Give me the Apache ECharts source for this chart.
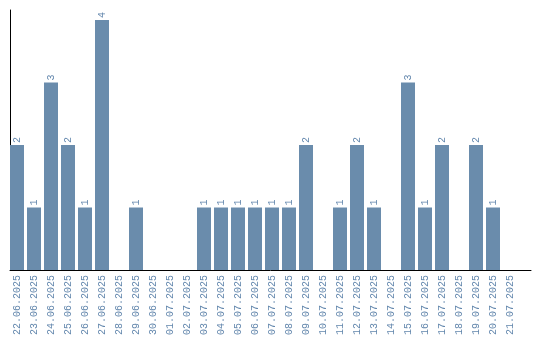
<!DOCTYPE html>
<html>
<head>
<meta charset="utf-8">
<script src="https://cdn.jsdelivr.net/npm/echarts@6/dist/echarts.min.js"></script>
<style>
html,body{margin:0;padding:0;background:#fff;}
#chart{width:540px;height:340px;}
</style>
</head>
<body>
<div id="chart"></div>
<script>
var categories = ["22.06.2025","23.06.2025","24.06.2025","25.06.2025","26.06.2025","27.06.2025","28.06.2025","29.06.2025","30.06.2025","01.07.2025","02.07.2025","03.07.2025","04.07.2025","05.07.2025","06.07.2025","07.07.2025","08.07.2025","09.07.2025","10.07.2025","11.07.2025","12.07.2025","13.07.2025","14.07.2025","15.07.2025","16.07.2025","17.07.2025","18.07.2025","19.07.2025","20.07.2025","21.07.2025"];
var counts = [2,1,3,2,1,4,0,1,0,0,0,1,1,1,1,1,1,2,0,1,2,1,0,3,1,2,0,2,1,0];

var barColor = '#6a8cac';
var textColor = '#6387ad';
var chart = echarts.init(document.getElementById('chart'), null, {renderer:'canvas'});
chart.setOption({
  animation: false,
  grid: [
    {left: 8.5, width: 510, top: 10, height: 260},
    {left: 10, width: 521, top: 10, height: 260}
  ],
  xAxis: [
    {type: 'category', gridIndex: 0, data: categories, boundaryGap: true,
     axisLine: {show: false}, axisTick: {show: false}, splitLine: {show: false},
     axisLabel: {interval: 0, rotate: 90, margin: 5, color: textColor,
       fontFamily: 'Liberation Mono', fontSize: 10}},
    {type: 'value', gridIndex: 1, min: 0, max: 1,
     axisLine: {show: true, lineStyle: {color: '#000', width: 1}},
     axisTick: {show: false}, axisLabel: {show: false}, splitLine: {show: false}}
  ],
  yAxis: [
    {type: 'value', gridIndex: 0, min: 0, max: 4.16, show: false, splitLine: {show: false}},
    {type: 'value', gridIndex: 1, min: 0, max: 1,
     axisLine: {show: true, lineStyle: {color: '#000', width: 1}},
     axisTick: {show: false}, axisLabel: {show: false}, splitLine: {show: false}}
  ],
  series: [{
    type: 'bar', xAxisIndex: 0, yAxisIndex: 0, data: counts, barWidth: 14, z: 5,
    itemStyle: {color: barColor},
    label: {show: true, position: 'top', rotate: 90, align: 'left', verticalAlign: 'middle',
      distance: 2, color: textColor, fontFamily: 'Liberation Mono', fontSize: 10,
      formatter: function(p){ return p.value ? String(p.value) : ''; }}
  }]
});
</script>
</body>
</html>
